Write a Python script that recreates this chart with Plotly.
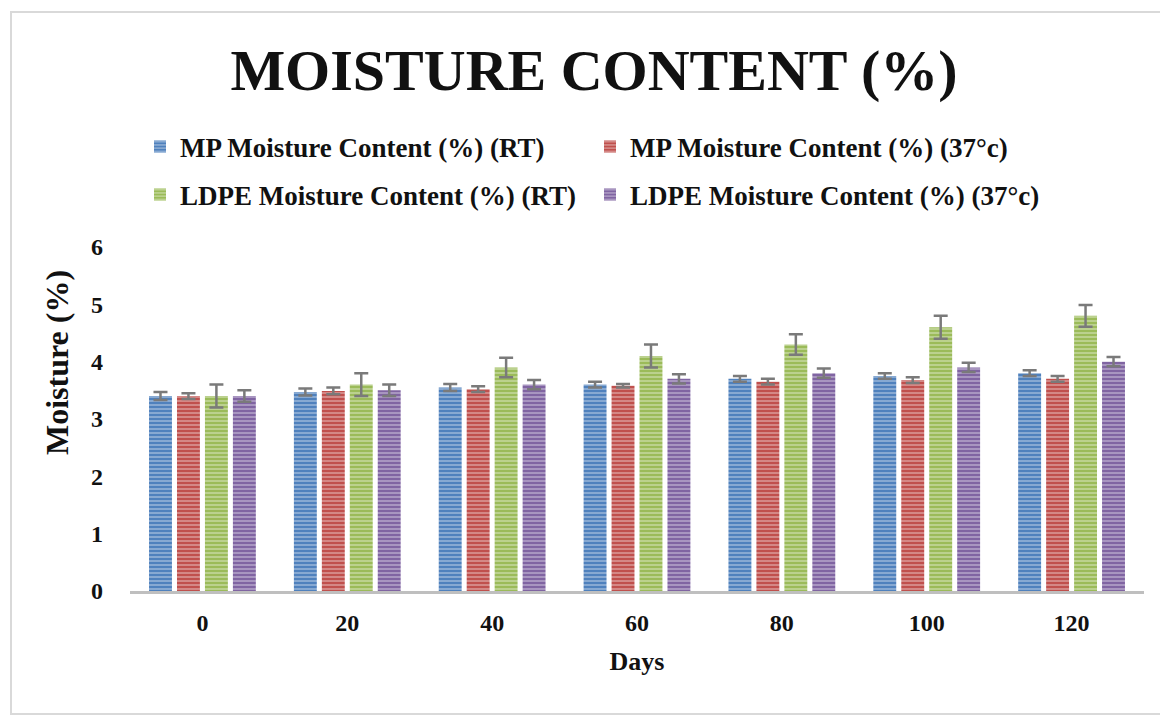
import plotly.graph_objects as go

days = ["0", "20", "40", "60", "80", "100", "120"]

series_names = [
    "MP Moisture Content (%) (RT)",
    "MP Moisture Content (%) (37°c)",
    "LDPE Moisture Content (%) (RT)",
    "LDPE Moisture Content (%) (37°c)",
]

mp_rt = [3.40, 3.47, 3.55, 3.60, 3.70, 3.75, 3.80]
mp_37 = [3.40, 3.49, 3.52, 3.58, 3.65, 3.68, 3.70]
ldpe_rt = [3.40, 3.60, 3.90, 4.10, 4.30, 4.60, 4.80]
ldpe_37 = [3.40, 3.50, 3.60, 3.70, 3.80, 3.90, 4.00]

mp_rt_err = [0.07, 0.06, 0.06, 0.05, 0.05, 0.05, 0.05]
mp_37_err = [0.05, 0.06, 0.05, 0.03, 0.05, 0.05, 0.05]
ldpe_rt_err = [0.20, 0.20, 0.17, 0.20, 0.18, 0.20, 0.19]
ldpe_37_err = [0.10, 0.10, 0.08, 0.08, 0.08, 0.08, 0.08]

colors = ["#4F81BD", "#C0504D", "#9BBB59", "#8064A2"]

values = [mp_rt, mp_37, ldpe_rt, ldpe_37]
errors = [mp_rt_err, mp_37_err, ldpe_rt_err, ldpe_37_err]
legends = ["legend", "legend", "legend2", "legend2"]

SERIF = "Liberation Serif, Times New Roman, serif"

fig = go.Figure()
for name, vals, errs, col, lg in zip(series_names, values, errors, colors, legends):
    fig.add_trace(go.Bar(
        x=days, y=vals, name=name, legend=lg,
        marker=dict(
            color=col,
            line=dict(width=0),
            pattern=dict(shape="-", size=4, solidity=0.4,
                         fgcolor="white", fgopacity=0.4),
        ),
        error_y=dict(type="data", array=errs, visible=True,
                     color="#7a7a7a", thickness=2.5, width=7),
    ))

# page offset (browser body margin)
O = 8
W, H = 1168 - O, 716 - O
# plot area in window pixels
PL, PR, PT, PB = 130, 1144, 247, 591
pw, ph = PR - PL, PB - PT

def px(x):
    return (x - PL) / pw

def py(y):
    return (PB - y) / ph

fig.update_layout(
    width=W, height=H,
    margin=dict(l=PL - O, r=W - (PR - O), t=PT - O, b=H - (PB - O), pad=0),
    paper_bgcolor="white", plot_bgcolor="white",
    barmode="group", bargap=0.228, bargroupgap=0.18,
    font=dict(family=SERIF, color="#111111"),
    title=dict(text="<b>MOISTURE CONTENT (%)</b>", x=(594 - O) / W, xanchor="center",
               y=1 - (70 - O) / H, yanchor="middle",
               font=dict(family=SERIF, size=58, color="#111111")),
    legend=dict(orientation="h", x=px(140), xanchor="left", y=py(147), yanchor="middle",
                entrywidth=405, entrywidthmode="pixels", itemwidth=30,
                font=dict(family=SERIF, size=27, color="#111111", weight="bold"),
                bgcolor="rgba(0,0,0,0)", traceorder="normal"),
    legend2=dict(orientation="h", x=px(140), xanchor="left", y=py(195), yanchor="middle",
                 entrywidth=405, entrywidthmode="pixels", itemwidth=30,
                 font=dict(family=SERIF, size=27, color="#111111", weight="bold"),
                 bgcolor="rgba(0,0,0,0)", traceorder="normal"),
    xaxis=dict(
        title=dict(text="<b>Days</b>", font=dict(family=SERIF, size=26), standoff=18),
        showline=True, linecolor="#bfbfbf", linewidth=3, ticks="",
        ticklabelstandoff=8,
        tickfont=dict(family=SERIF, size=24, weight="bold"),
        showgrid=False, zeroline=False,
    ),
    yaxis=dict(
        range=[0, 6], dtick=1, showline=False, ticks="",
        ticklabelstandoff=26,
        tickfont=dict(family=SERIF, size=24, weight="bold"),
        showgrid=False, zeroline=False,
    ),
    annotations=[
        dict(text="<b>Moisture (%)</b>", textangle=-90, xref="paper", yref="paper",
             x=px(57), y=py(363), xanchor="center", yanchor="middle", showarrow=False,
             font=dict(family=SERIF, size=32, color="#111111")),
    ],
    shapes=[
        dict(type="rect", xref="paper", yref="paper",
             x0=px(11), x1=px(1172), y0=py(714), y1=py(12),
             line=dict(color="#d9d9d9", width=2), fillcolor="rgba(0,0,0,0)", layer="below"),
    ],
)

fig.write_html("out.html")
